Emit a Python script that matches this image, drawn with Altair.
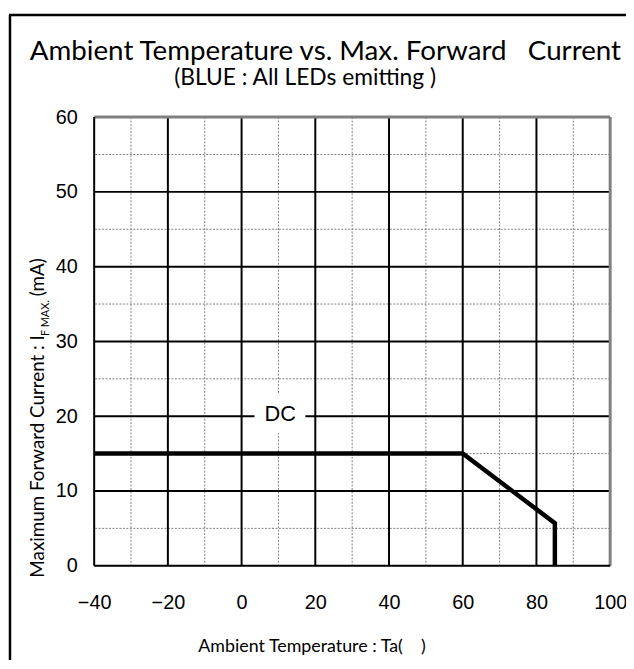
import altair as alt
import pandas as pd

# ---------------- data ----------------
temp = [-40, 60, 85, 85]
current = [15, 15, 5.7, 0]

x_ticks = [-40, -20, 0, 20, 40, 60, 80, 100]
y_ticks = [0, 10, 20, 30, 40, 50, 60]
x_major = [-20, 0, 20, 40, 60, 80]
y_major = [10, 20, 30, 40, 50]
x_minor = [-30, -10, 10, 30, 50, 70, 90]
y_minor = [5, 15, 25, 35, 45, 55]

series_label = ["DC"]
series_label_x = [10.5]
series_label_y = [20.3]

NB = "\u00a0"
title_text = ["Ambient Temperature vs. Max. Forward" + NB * 3 + "Current"]
subtitle_text = ["(BLUE" + NB + ":" + NB + "All LEDs emitting" + NB + ")"]
x_title = ["Ambient Temperature : Ta(" + NB * 4 + ")"]
y_title_main = ["Maximum Forward Current : I"]
y_title_sub = ["F MAX."]
y_title_unit = ["(mA)"]

# ---------------- layout ----------------
W, H = 521, 453
PAD = {"left": 87, "top": 107, "right": 16, "bottom": 92}
TXT = "Lato"
NUM = "Liberation Sans"

xs = alt.Scale(domain=[-40, 100], nice=False, zero=False)
ys = alt.Scale(domain=[0, 60], nice=False, zero=False)

x_axis = alt.Axis(
    values=x_ticks, title=None, grid=False, ticks=False, domain=False,
    labelFont=NUM, labelFontSize=20, labelColor="black", labelPadding=27,
    labelFlush=False, format="d")
y_axis = alt.Axis(
    values=y_ticks, title=None, grid=False, ticks=False, domain=False,
    labelFont=NUM, labelFontSize=20, labelColor="black", labelPadding=17,
    format="d")

def X(field):
    return alt.X(field, scale=xs, axis=x_axis)

def Y(field):
    return alt.Y(field, scale=ys, axis=y_axis)

df_line = pd.DataFrame({"t": temp, "i": current, "o": range(len(temp))})

minor_x = alt.Chart(pd.DataFrame({"x": x_minor})).mark_rule(
    color="#808080", strokeWidth=1, strokeDash=[2, 1.5]
).encode(x=X("x:Q"))
minor_y = alt.Chart(pd.DataFrame({"y": y_minor})).mark_rule(
    color="#808080", strokeWidth=1, strokeDash=[2, 1.5]
).encode(y=Y("y:Q"))

major_x = alt.Chart(pd.DataFrame({"x": x_major})).mark_rule(
    color="black", strokeWidth=2
).encode(x=X("x:Q"))
major_y = alt.Chart(pd.DataFrame({"y": y_major})).mark_rule(
    color="black", strokeWidth=2
).encode(y=Y("y:Q"))

border_top = alt.Chart(pd.DataFrame({"y": [60]})).mark_rule(
    color="#808080", strokeWidth=3
).encode(y=Y("y:Q"))
border_right = alt.Chart(pd.DataFrame({"x": [100]})).mark_rule(
    color="#808080", strokeWidth=3
).encode(x=X("x:Q"))
border_left = alt.Chart(pd.DataFrame({"x": [-40]})).mark_rule(
    color="black", strokeWidth=2
).encode(x=X("x:Q"))
border_bottom = alt.Chart(pd.DataFrame({"y": [0]})).mark_rule(
    color="black", strokeWidth=2
).encode(y=Y("y:Q"))

# white box behind the series label (half sizes in data units)
df_lab = pd.DataFrame({"x": series_label_x, "y": series_label_y, "t": series_label})
df_lab["x1"] = df_lab["x"] - 7.0
df_lab["x2"] = df_lab["x"] + 6.8
df_lab["y1"] = df_lab["y"] - 2.5
df_lab["y2"] = df_lab["y"] + 2.8
label_box = alt.Chart(df_lab).mark_rect(color="white").encode(
    x=X("x1:Q"), x2="x2:Q", y=Y("y1:Q"), y2="y2:Q",
)
label_txt = alt.Chart(df_lab).mark_text(
    font=NUM, fontSize=22, color="black", baseline="middle", align="center"
).encode(x=X("x:Q"), y=Y("y:Q"), text="t:N")

line = alt.Chart(df_line).mark_line(
    color="black", strokeWidth=4.5, strokeJoin="miter"
).encode(x=X("t:Q"), y=Y("i:Q"), order="o:Q")

# outer frame
frame_left = alt.Chart(pd.DataFrame({"a": [0]})).mark_rule(color="black", strokeWidth=2.5).encode(
    x=alt.value(-85), y=alt.value(-103), y2=alt.value(600))
frame_top = alt.Chart(pd.DataFrame({"a": [0]})).mark_rule(color="black", strokeWidth=2.5).encode(
    x=alt.value(-86), x2=alt.value(700), y=alt.value(-103))

def text_layer(vals, x, y, size, align="left", angle=0, font=TXT):
    return alt.Chart(pd.DataFrame({"t": vals})).mark_text(
        font=font, fontSize=size, color="black", align=align,
        baseline="alphabetic", angle=angle
    ).encode(x=alt.value(x), y=alt.value(y), text="t:N")

title = text_layer(title_text, -65, -58, 28)
subtitle = text_layer(subtitle_text, 213, -32, 23, align="center")
xt = text_layer(x_title, 220, H + 87, 18, align="center")
yt1 = text_layer(y_title_main, -51, 465, 19, angle=270)
yt2 = text_layer(y_title_sub, -46, 221, 11, angle=270)
yt3 = text_layer(y_title_unit, -51, 181, 19, angle=270)

chart = alt.layer(
    minor_x, minor_y, major_x, major_y,
    border_top, border_right, border_left, border_bottom,
    label_box, label_txt, line,
    frame_left, frame_top, title, subtitle, xt, yt1, yt2, yt3,
).properties(
    width=W, height=H,
    autosize=alt.AutoSizeParams(type="none"),
    padding=PAD,
).configure_view(stroke=None).configure(background="white")

chart.save("out.html", embed_options={"renderer": "svg", "actions": False})
